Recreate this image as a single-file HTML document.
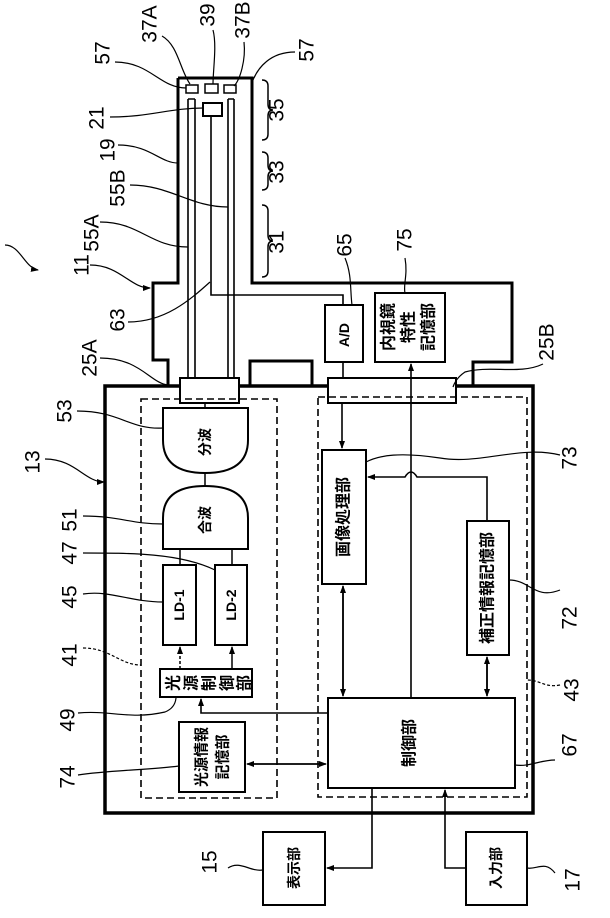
<!DOCTYPE html>
<html><head><meta charset="utf-8"><style>
html,body{margin:0;padding:0;background:#fff;}
svg{display:block;}
text{font-family:"Liberation Sans","Noto Sans CJK JP",sans-serif;fill:#000;}
.n{font-size:21px;}
.c{font-size:14px;font-weight:bold;}
</style></head><body>
<svg width="610" height="918" viewBox="0 0 610 918" xmlns="http://www.w3.org/2000/svg">
<defs>
<marker id="a" markerWidth="8" markerHeight="8" refX="7" refY="4" orient="auto" markerUnits="userSpaceOnUse"><path d="M0,1 L8,4 L0,7 Z" fill="#000"/></marker>
</defs>
<g fill="none" stroke="#000">
<path d="M178,78 H252 V283 H512 V362 H473 V386" stroke-width="3"/>
<path d="M178,78 V283 H153 V360 H168 V386" stroke-width="3"/>
<rect x="105" y="386" width="428" height="427" stroke-width="3.5"/>
<rect x="186" y="85" width="12" height="8" stroke-width="1.5"/>
<rect x="205" y="84" width="13" height="9" stroke-width="1.5"/>
<rect x="224" y="85" width="12" height="8" stroke-width="1.5"/>
<rect x="203" y="103" width="19" height="13" stroke-width="2"/>
<path d="M188,99 V379 M195,99 V379 M188,99 H195" stroke-width="1.6"/>
<path d="M228,99 V379 M234,99 V379 M228,99 H234" stroke-width="1.6"/>
<path d="M211,116 V295 H343 V305" stroke-width="1.6"/>
<rect x="180" y="378" width="59" height="25" stroke-width="2" fill="#fff"/>
<rect x="250" y="361" width="62" height="25" stroke-width="3"/>
<rect x="328" y="378" width="128" height="25" stroke-width="2" fill="#fff"/>
<rect x="325" y="305" width="38" height="57" stroke-width="2"/>
<rect x="375" y="293" width="70" height="69" stroke-width="2"/>
<path d="M343,362 V378" stroke-width="1.6"/>
<path d="M262,80 Q268,80 268,86 V104 Q268,110 273,110 Q268,110 268,116 V134 Q268,140 262,140" stroke-width="1.5"/>
<path d="M262,152 Q268,152 268,158 V165 Q268,171 273,171 Q268,171 268,177 V184 Q268,190 262,190" stroke-width="1.5"/>
<path d="M262,205 Q268,205 268,211 V235 Q268,241 273,241 Q268,241 268,247 V271 Q268,277 262,277" stroke-width="1.5"/>
<rect x="141" y="399" width="136" height="399" stroke-width="1.6" stroke-dasharray="7,4"/>
<rect x="318" y="397" width="209" height="400" stroke-width="1.6" stroke-dasharray="7,4"/>
<path d="M163,408 H248 V440 Q248,473 205,473 Q163,473 163,440 Z" stroke-width="2"/>
<path d="M163,549 H248 V518 Q248,486 205,486 Q163,486 163,518 Z" stroke-width="2"/>
<path d="M205,403 V408 M205,473 V486 M180,549 V565 M232,549 V565" stroke-width="1.5"/>
<rect x="163" y="565" width="33" height="80" stroke-width="2"/>
<rect x="215" y="565" width="32" height="80" stroke-width="2"/>
<rect x="160" y="669" width="92" height="28" stroke-width="2"/>
<path d="M180,669 V647" stroke-width="1.5" stroke-dasharray="3,2" marker-end="url(#a)"/>
<path d="M232,669 V647" stroke-width="1.5" marker-end="url(#a)"/>
<rect x="179" y="722" width="66" height="70" stroke-width="2"/>
<rect x="322" y="450" width="44" height="134" stroke-width="2"/>
<rect x="467" y="521" width="42" height="134" stroke-width="2"/>
<rect x="328" y="698" width="187" height="90" stroke-width="2"/>
<path d="M342,403 V448" stroke-width="1.6" marker-end="url(#a)"/>
<path d="M343,588 V696" stroke-width="1.6" marker-end="url(#a)"/>
<path d="M343,694 V586" stroke-width="1.6" marker-end="url(#a)"/>
<path d="M411,698 V364" stroke-width="1.6" marker-end="url(#a)"/>
<path d="M487,521 V477 H417 Q411,467 405,477 H368" stroke-width="1.6" marker-end="url(#a)"/>
<path d="M487,659 V696" stroke-width="1.6" marker-end="url(#a)"/>
<path d="M487,694 V657" stroke-width="1.6" marker-end="url(#a)"/>
<path d="M328,713 H201 V699" stroke-width="1.6" marker-end="url(#a)"/>
<path d="M249,764 H326" stroke-width="1.6" marker-end="url(#a)"/>
<path d="M324,764 H247" stroke-width="1.6" marker-end="url(#a)"/>
<rect x="263" y="832" width="62" height="73" stroke-width="2"/>
<rect x="466" y="832" width="61" height="73" stroke-width="2"/>
<path d="M372,788 V868 H327" stroke-width="1.6" marker-end="url(#a)"/>
<path d="M466,868 H445 V790" stroke-width="1.6" marker-end="url(#a)"/>
<g stroke-width="1.2">
<path d="M115,62 C150,62 160,88 186,88"/>
<path d="M162,36 C178,45 180,70 190,84"/>
<path d="M213,30 C217,45 213,70 213,84"/>
<path d="M244,42 C246,60 240,80 234,86"/>
<path d="M295,52 C270,52 258,68 253,80"/>
<path d="M110,117 C150,117 170,108 203,108"/>
<path d="M118,145 C150,145 160,163 178,163"/>
<path d="M130,185 C170,185 190,207 228,207"/>
<path d="M100,222 C140,222 150,247 188,247"/>
<path d="M90,265 C120,265 130,288 150,288" marker-end="url(#a)"/>
<path d="M5,245 C20,245 25,268 38,270" marker-end="url(#a)"/>
<path d="M128,322 C165,322 190,300 210,282"/>
<path d="M100,358 C140,358 150,383 168,385"/>
<path d="M77,411 C120,411 130,430 163,428"/>
<path d="M45,459 C75,459 85,482 104,482" marker-end="url(#a)"/>
<path d="M83,516 C120,516 130,524 163,524"/>
<path d="M83,553 C130,553 180,553 215,570"/>
<path d="M83,594 C110,590 130,602 163,602"/>
<path d="M83,648 C110,648 120,665 141,665" stroke-dasharray="3,2"/>
<path d="M78,713 C110,710 130,720 165,712 Q175,708 176,698"/>
<path d="M78,775 C110,770 150,770 179,766"/>
<path d="M560,455 C520,445 480,465 440,458 C400,452 380,455 366,462"/>
<path d="M560,590 C535,600 530,580 509,580"/>
<path d="M560,685 C545,688 540,680 527,680" stroke-dasharray="3,2"/>
<path d="M555,760 C540,760 530,767 515,765"/>
<path d="M543,364 C520,375 490,365 465,372 Q456,378 453,387"/>
<path d="M345,258 C352,275 350,290 352,305"/>
<path d="M405,258 C408,275 403,285 405,293"/>
<path d="M228,868 C240,860 250,872 263,870"/>
<path d="M555,873 C545,860 537,870 527,868"/>
</g>
</g>
<g class="n" text-anchor="middle" dominant-baseline="central">
<text transform="translate(103,53) rotate(-90)">57</text>
<text transform="translate(150,24) rotate(-90)">37A</text>
<text transform="translate(208,15) rotate(-90)">39</text>
<text transform="translate(243,20) rotate(-90)">37B</text>
<text transform="translate(307,50) rotate(-90)">57</text>
<text transform="translate(97,118) rotate(-90)">21</text>
<text transform="translate(108,150) rotate(-90)">19</text>
<text transform="translate(118,188) rotate(-90)">55B</text>
<text transform="translate(92,233) rotate(-90)">55A</text>
<text transform="translate(82,265) rotate(-90)">11</text>
<text transform="translate(118,320) rotate(-90)">63</text>
<text transform="translate(90,358) rotate(-90)">25A</text>
<text transform="translate(65,411) rotate(-90)">53</text>
<text transform="translate(33,462) rotate(-90)">13</text>
<text transform="translate(70,520) rotate(-90)">51</text>
<text transform="translate(70,553) rotate(-90)">47</text>
<text transform="translate(70,597) rotate(-90)">45</text>
<text transform="translate(70,655) rotate(-90)">41</text>
<text transform="translate(68,720) rotate(-90)">49</text>
<text transform="translate(68,777) rotate(-90)">74</text>
<text transform="translate(277,110) rotate(-90)">35</text>
<text transform="translate(277,172) rotate(-90)">33</text>
<text transform="translate(277,242) rotate(-90)">31</text>
<text transform="translate(345,245) rotate(-90)">65</text>
<text transform="translate(405,240) rotate(-90)">75</text>
<text transform="translate(547,342) rotate(-90)">25B</text>
<text transform="translate(570,458) rotate(-90)">73</text>
<text transform="translate(570,618) rotate(-90)">72</text>
<text transform="translate(572,690) rotate(-90)">43</text>
<text transform="translate(570,745) rotate(-90)">67</text>
<text transform="translate(210,862) rotate(-90)">15</text>
<text transform="translate(573,880) rotate(-90)">17</text>
</g>
<g class="c" text-anchor="middle" dominant-baseline="central">
<text transform="translate(205,442) rotate(-90)">分波</text>
<text transform="translate(205,520) rotate(-90)">合波</text>
<text transform="translate(179,605) rotate(-90)">LD-1</text>
<text transform="translate(231,605) rotate(-90)">LD-2</text>
<text transform="translate(174,683) rotate(-90)" style="font-size:16px">光</text>
<text transform="translate(192,683) rotate(-90)" style="font-size:16px">源</text>
<text transform="translate(210,683) rotate(-90)" style="font-size:16px">制</text>
<text transform="translate(228,683) rotate(-90)" style="font-size:16px">御</text>
<text transform="translate(245,683) rotate(-90)" style="font-size:16px">部</text>
<text transform="translate(202,757) rotate(-90)" style="font-size:15px">光源情報</text>
<text transform="translate(223,757) rotate(-90)" style="font-size:15px">記憶部</text>
<text transform="translate(344,335) rotate(-90)">A/D</text>
<text transform="translate(389,327) rotate(-90)" style="font-size:16px">内視鏡</text>
<text transform="translate(409,327) rotate(-90)" style="font-size:16px">特性</text>
<text transform="translate(429,327) rotate(-90)" style="font-size:16px">記憶部</text>
<text transform="translate(344,517) rotate(-90)" style="font-size:16px">画像処理部</text>
<text transform="translate(488,588) rotate(-90)" style="font-size:16px">補正情報記憶部</text>
<text transform="translate(410,743) rotate(-90)" style="font-size:16px">制御部</text>
<text transform="translate(294,868) rotate(-90)">表示部</text>
<text transform="translate(496,868) rotate(-90)">入力部</text>
</g>
</svg>
</body></html>
